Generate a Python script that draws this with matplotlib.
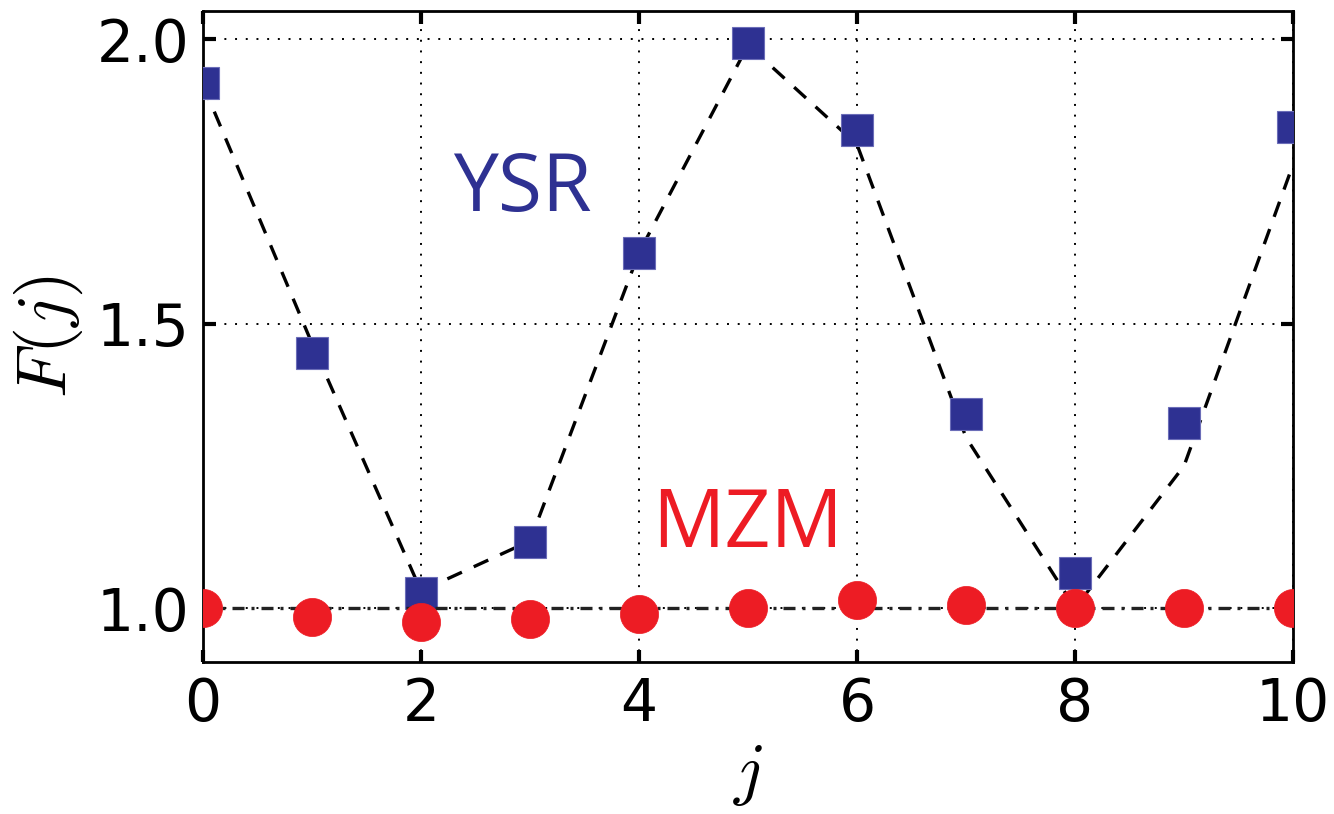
import matplotlib
matplotlib.use("Agg")
import matplotlib.pyplot as plt

# data
j = [0, 1, 2, 3, 4, 5, 6, 7, 8, 9, 10]
ysr_points = [1.924, 1.449, 1.026, 1.116, 1.625, 1.993, 1.841, 1.341, 1.062, 1.326, 1.846]
ysr_curve = [1.92, 1.465, 1.03, 1.118, 1.625, 1.99, 1.815, 1.30, 1.00, 1.25, 1.78]
mzm_points = [1.0, 0.984, 0.976, 0.981, 0.989, 1.0, 1.014, 1.005, 1.0, 1.0, 1.0]
mzm_level = [1.0] * len(j)

x_ticks = [0, 2, 4, 6, 8, 10]
y_ticks = [1.0, 1.5, 2.0]

blue = "#2e3192"
red = "#ed1c24"

plt.rcParams["mathtext.fontset"] = "cm"

fig = plt.figure(figsize=(13.34, 8.14), dpi=100)
ax = fig.add_axes([0.1522, 0.1867, 0.8171, 0.7998])

ax.plot(j, ysr_curve, color="black", linewidth=2.4, dashes=(4.8, 3.9), zorder=2)
ax.plot(j, ysr_points, linestyle="none", marker="s", markersize=23.5,
        markerfacecolor=blue, markeredgecolor="#6b6db8", markeredgewidth=0.8, zorder=3)
ax.plot(j, mzm_level, color="#222222", linewidth=2.4, dashes=(3.6, 2.1, 0.9, 2.1), zorder=4)
ax.plot(j, mzm_points, linestyle="none", marker="o", markersize=27.5,
        markerfacecolor=red, markeredgecolor=red, markeredgewidth=0.5, zorder=5)

ax.text(2.93, 1.735, "YSR", color=blue, fontsize=58, family="Open Sans",
        ha="center", va="center")
ax.text(5.0, 1.145, "MZM", color=red, fontsize=58, family="Open Sans",
        ha="center", va="center")

ax.set_xlim(0, 10)
ax.set_ylim(0.905, 2.05)
ax.set_xticks(x_ticks)
ax.set_yticks(y_ticks)
ax.set_yticklabels(["1.0", "1.5", "2.0"])

ax.grid(True, color="black", linewidth=1.4, linestyle=(0, (1, 4.5)))
ax.set_axisbelow(True)

ax.tick_params(direction="in", length=9, width=3, labelsize=42,
               top=True, right=True, pad=10)
for s in ax.spines.values():
    s.set_linewidth(2)

ax.set_xlabel("$j$", fontsize=50, labelpad=6)
ax.set_ylabel("$F(j)$", fontsize=50, labelpad=8)

fig.savefig("out.png", dpi=100)
plt.close(fig)
